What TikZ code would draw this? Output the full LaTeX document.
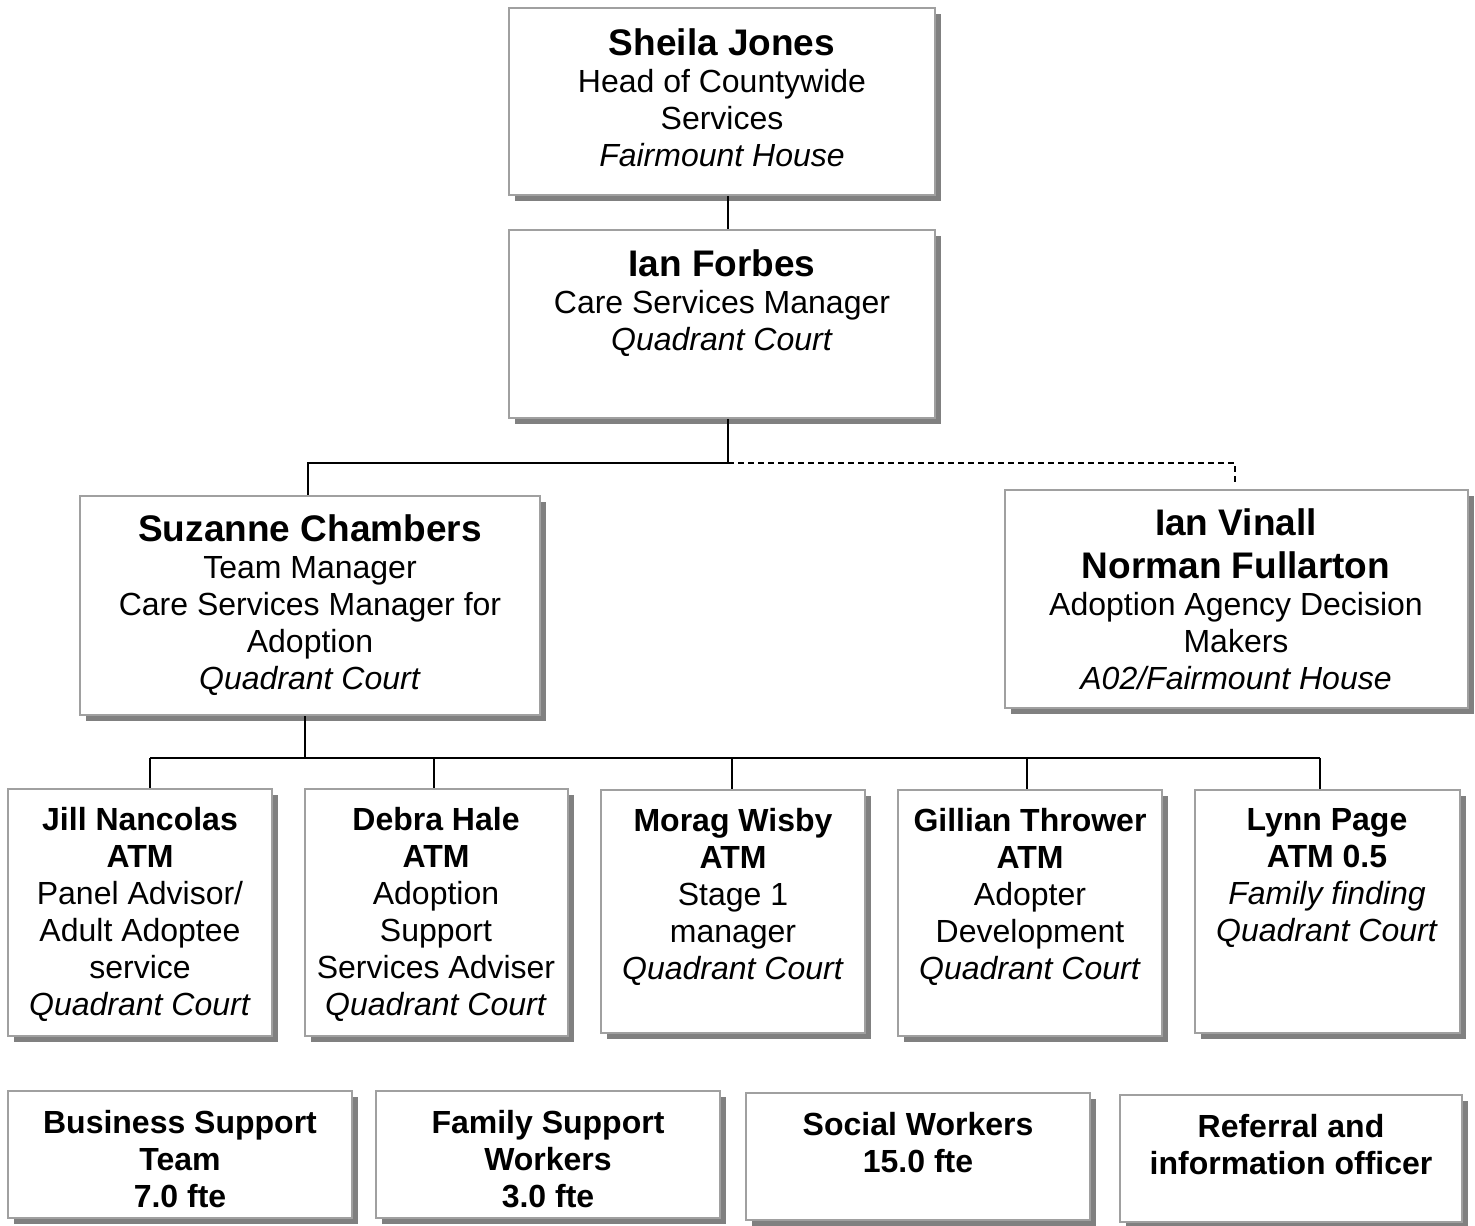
\documentclass[tikz,border=0pt]{standalone}
\usepackage{fontspec}
\setmainfont{Liberation Sans}
\usetikzlibrary{shadows,fit,calc}
\definecolor{boxline}{HTML}{A0A0A0}
\definecolor{shade}{HTML}{808080}
\tikzset{
 orgbox/.style={draw=boxline, line width=1pt, fill=white, inner sep=0pt,
   drop shadow={shadow xshift=3pt, shadow yshift=-3pt, fill=shade, opacity=1}},
 txt/.style={align=center, anchor=north, inner sep=0pt, font=\fontsize{16}{18.5}\selectfont},
 conn/.style={line width=1pt},
 dconn/.style={line width=1pt, dash pattern=on 3pt off 2pt},
}
\newcommand\bign[1]{{\fontsize{18.5}{18.5}\selectfont\bfseries #1}}
\begin{document}
\begin{tikzpicture}[x=0.5pt,y=-0.5pt]
\useasboundingbox (0,0) rectangle (1475,1225);
% top levels
\node[orgbox, fit={(509,8) (935,195)}] (sj) {};
\node[txt] (sjt) at (722,28.5) {\bign{Sheila Jones}\\Head of Countywide\\Services\\\textit{Fairmount House}};
\node[orgbox, fit={(509,230) (935,418)}] (if) {};
\node[txt] (ift) at (722,249.5) {\bign{Ian Forbes}\\Care Services Manager\\\textit{Quadrant Court}};
\node[orgbox, fit={(80,496) (540,715)}] (sc) {};
\node[txt] (sct) at (310,514.5) {\bign{Suzanne Chambers}\\Team Manager\\Care Services Manager for\\Adoption\\\textit{Quadrant Court}};
\node[orgbox, fit={(1005,490) (1468,708)}] (iv) {};
\node[txt] (ivt) at (1236,508.5) {\bign{Ian Vinall}\\[3pt]\bign{Norman Fullarton}\\Adoption Agency Decision\\Makers\\\textit{A02/Fairmount House}};
% ATM row
\node[orgbox, fit={(8,789) (272,1036)}] (jn) {};
\node[txt] (jnt) at (140,807) {\textbf{Jill Nancolas}\\\textbf{ATM}\\Panel Advisor/\\Adult Adoptee\\service\\\textit{Quadrant Court}};
\node[orgbox, fit={(305,789) (568,1036)}] (dh) {};
\node[txt] (dht) at (436,807) {\textbf{Debra Hale}\\\textbf{ATM}\\Adoption\\Support\\Services Adviser\\\textit{Quadrant Court}};
\node[orgbox, fit={(601,790) (865,1033)}] (mw) {};
\node[txt] (mwt) at (733,808) {\textbf{Morag Wisby}\\\textbf{ATM}\\Stage 1\\manager\\\textit{Quadrant Court}};
\node[orgbox, fit={(898,790) (1162,1036)}] (gt) {};
\node[txt] (gtt) at (1030,808) {\textbf{Gillian Thrower}\\\textbf{ATM}\\Adopter\\Development\\\textit{Quadrant Court}};
\node[orgbox, fit={(1195,790) (1460,1033)}] (lp) {};
\node[txt] (lpt) at (1327,808) {\textbf{Lynn Page}\\\textbf{ATM 0.5}\\\textit{Family finding}\\\textit{Quadrant Court}};
% bottom row
\node[orgbox, fit={(8,1091) (352,1218)}] (bs) {};
\node[txt] (bst) at (180,1110) {\textbf{Business Support}\\\textbf{Team}\\\textbf{7.0 fte}};
\node[orgbox, fit={(376,1091) (720,1218)}] (fs) {};
\node[txt] (fst) at (548,1110) {\textbf{Family Support}\\\textbf{Workers}\\\textbf{3.0 fte}};
\node[orgbox, fit={(746,1093) (1090,1220)}] (sw) {};
\node[txt] (swt) at (918,1112) {\textbf{Social Workers}\\\textbf{15.0 fte}};
\node[orgbox, fit={(1120,1095) (1462,1222)}] (rf) {};
\node[txt] (rft) at (1291,1114) {\textbf{Referral and}\\\textbf{information officer}};
% connectors
\coordinate (j1) at (728,463);
\coordinate (j1l) at (308,463);
\coordinate (j1r) at (1235,463);
\coordinate (j1e) at (1235,482);
\draw[conn] (sj.south -| j1) -- (if.north -| j1);
\draw[conn] (if.south -| j1) -- (j1) -- (j1l) -- (sc.north -| j1l);
\draw[dconn] (j1) -- (j1r) -- (j1e);
\coordinate (j2) at (305,758);
\coordinate (j2l) at (150,758);
\coordinate (j2r) at (1320,758);
\draw[conn] (sc.south -| j2) -- (j2);
\draw[conn] (j2l) -- (j2r);
\draw[conn] (j2l) -- (jn.north -| j2l);
\draw[conn] (434,758) coordinate (j2b) -- (dh.north -| j2b);
\draw[conn] (732,758) coordinate (j2c) -- (mw.north -| j2c);
\draw[conn] (1027,758) coordinate (j2d) -- (gt.north -| j2d);
\draw[conn] (j2r) -- (lp.north -| j2r);
\end{tikzpicture}
\end{document}
